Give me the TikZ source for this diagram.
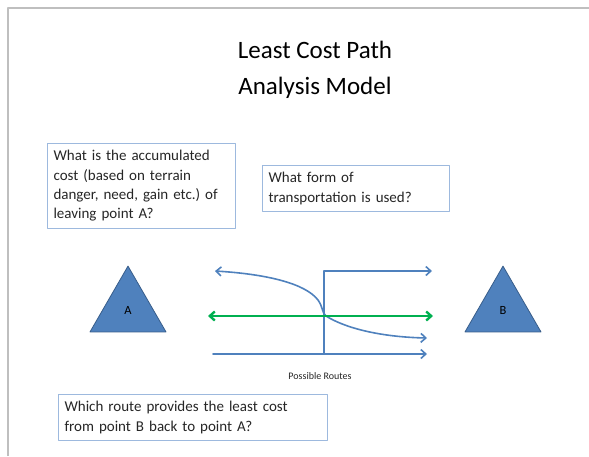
\documentclass[tikz,border=0pt]{standalone}
\usepackage{fontspec}
\setmainfont{Carlito}
\usetikzlibrary{arrows.meta,shapes.geometric}
\definecolor{slideframe}{RGB}{191,191,191}
\definecolor{boxline}   {RGB}{157,185,222}
\definecolor{sitefill}  {RGB}{ 79,129,189}
\definecolor{siteline}  {RGB}{ 56, 93,138}
\definecolor{routeblue} {RGB}{ 79,129,189}
\definecolor{routegreen}{RGB}{  0,176, 80}
\definecolor{textgray}  {RGB}{ 38, 38, 38}
\tikzset{
  %% Question boxes: white fill, pale blue hairline border
  qbox/.style={
    draw=boxline, line width=1.1pt, fill=white,
    anchor=north west, align=left, text=textgray,
    inner xsep=6pt, inner ysep=7pt,
    font=\fontsize{15}{19.3}\selectfont
  },
  %% Start / end points
  site/.style={
    regular polygon, regular polygon sides=3,
    minimum size=87.8pt, inner sep=0pt,
    fill=sitefill, draw=siteline, line width=0.8pt,
    font=\fontsize{12.5}{14}\selectfont, text=black
  },
  route/.style={
    draw=routeblue, line width=1.6pt,
    -{Straight Barb[length=5pt,width=9pt]}
  },
  best/.style={
    draw=routegreen, line width=2.4pt,
    {Straight Barb[length=5pt,width=9pt]}-{Straight Barb[length=5pt,width=9pt]}
  },
}

\begin{document}
\begin{tikzpicture}[x=1pt, y=-1pt, line cap=round, line join=round]

  \useasboundingbox (0,0) rectangle (589,456);

  %% slide frame (top and left edge only)
  \draw[slideframe, line width=2pt, line cap=butt] (8,456) -- (8,8) -- (589,8);

  %% Title
  \node[align=center, text=black, font=\fontsize{25}{36}\selectfont]
        (title) at (315,70) {Least Cost Path\\Analysis Model};

  %% Questions
  \node[qbox, text width=176pt] (qcost) at (47,143)
        {What is the accumulated\\cost (based on terrain\\danger, need, gain etc.)\ of\\leaving point A?};
  \node[qbox, text width=175pt] (qform) at (262,165)
        {What form of\\transportation is used?};
  \node[qbox, text width=257pt] (qroute) at (58,394)
        {Which route provides the least cost\\from point B back to point A?};

  %% Points A and B
  \node[site] (ptA) at (128,310) {A};
  \node[site] (ptB) at (503,310) {B};

  %% Route end points
  \coordinate (curveL) at (215,271);
  \coordinate (curveR) at (427,338);
  \coordinate (stepB)  at (324,354);
  \coordinate (stepT)  at (324,271);
  \coordinate (stepR)  at (432,271);
  \coordinate (lowL)   at (213,354);
  \coordinate (lowR)   at (427,354);
  \coordinate (bestL)  at (208,316);
  \coordinate (bestR)  at (433,316);

  %% Possible routes
  \draw[route, {Straight Barb[length=5pt,width=9pt]}-{Straight Barb[length=5pt,width=9pt]}]
        (curveL) .. controls (265,274) and (305,283) .. (318,300)
                 .. controls (323,307) and (322,313) .. (326,316)
                 .. controls (345,328) and (380,337) .. (curveR);
  \draw[route] (stepB) -- (stepT) -- (stepR);
  \draw[route] (lowL) -- (lowR);
  \draw[best]  (bestL) -- (bestR);

  \node[text=textgray, font=\fontsize{10}{12}\selectfont]
        (routes) at (320,376) {Possible Routes};

\end{tikzpicture}
\end{document}
